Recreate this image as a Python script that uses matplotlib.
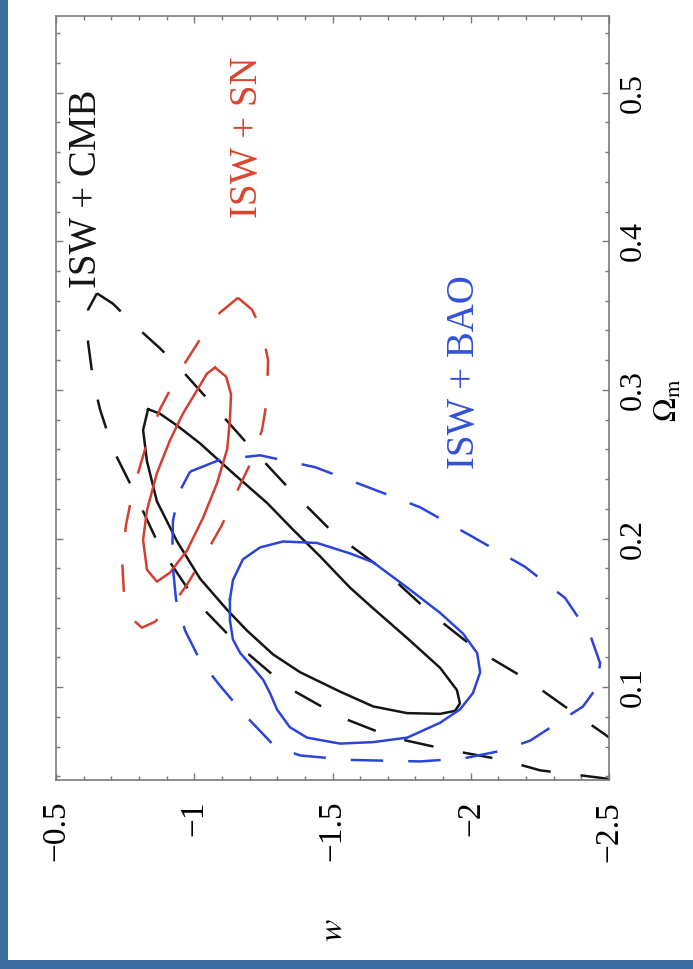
import numpy as np
import matplotlib
matplotlib.use("Agg")
import matplotlib.pyplot as plt
from matplotlib.patches import Rectangle
from matplotlib.ticker import MultipleLocator, FixedLocator

plt.rcParams['font.family'] = ['Liberation Serif', 'DejaVu Serif']
plt.rcParams['mathtext.fontset'] = 'stix'

# ---- confidence contours in the (w, Omega_m) plane ----
# ISW + CMB
cmb_inner_w = [-0.833, -0.876, -0.938, -1.021, -1.140, -1.263, -1.357, -1.455, -1.563, -1.647,
               -1.770, -1.889, -1.950, -1.961, -1.943, -1.889, -1.770, -1.647, -1.527, -1.383,
               -1.285, -1.191, -1.119, -1.021, -0.938, -0.865, -0.829, -0.815]
cmb_inner_om = [0.287, 0.284, 0.276, 0.264, 0.244, 0.224, 0.206, 0.188, 0.167, 0.153,
                0.133, 0.113, 0.098, 0.089, 0.084, 0.082, 0.0825, 0.087, 0.097, 0.110,
                0.122, 0.138, 0.152, 0.173, 0.198, 0.225, 0.252, 0.273]
cmb_outer_w = [-0.648, -0.706, -0.793, -0.876, -0.956, -1.057, -1.191, -1.346, -1.502, -1.683,
               -1.853, -2.023, -2.204, -2.370, -2.479, -2.612, -2.757, -2.468, -2.251, -2.117,
               -1.914, -1.719, -1.527, -1.336, -1.166, -1.010, -0.876, -0.768, -0.706, -0.659,
               -0.634, -0.616, -0.616]
cmb_outer_om = [0.365, 0.358, 0.342, 0.328, 0.313, 0.292, 0.264, 0.233, 0.204, 0.179,
                0.150, 0.125, 0.105, 0.083, 0.069, 0.051, 0.031, 0.039, 0.044, 0.051,
                0.058, 0.066, 0.080, 0.100, 0.127, 0.157, 0.194, 0.237, 0.260, 0.287,
                0.307, 0.332, 0.354]

# ISW + SN
sn_inner_w = [-1.075, -1.115, -1.133, -1.129, -1.119, -1.082, -1.032, -0.974, -0.912, -0.865,
              -0.829, -0.815, -0.829, -0.865, -0.912, -0.959, -1.014, -1.046]
sn_inner_om = [0.315, 0.309, 0.297, 0.280, 0.260, 0.237, 0.214, 0.192, 0.177, 0.171,
               0.179, 0.199, 0.219, 0.244, 0.266, 0.284, 0.301, 0.311]
sn_outer_w = [-1.158, -1.209, -1.245, -1.267, -1.263, -1.245, -1.202, -1.158, -1.100, -1.039,
              -0.974, -0.920, -0.858, -0.811, -0.768, -0.746, -0.739, -0.753, -0.779, -0.822,
              -0.876, -0.949, -1.021, -1.093]
sn_outer_om = [0.362, 0.354, 0.340, 0.320, 0.293, 0.273, 0.250, 0.233, 0.209, 0.189,
               0.169, 0.155, 0.144, 0.140, 0.147, 0.162, 0.186, 0.209, 0.233, 0.260,
               0.287, 0.313, 0.334, 0.352]

# ISW + BAO
bao_inner_w = [-1.129, -1.140, -1.176, -1.238, -1.321, -1.444, -1.563, -1.647, -1.770, -1.889,
               -1.972, -2.023, -2.034, -2.008, -1.961, -1.889, -1.770, -1.647, -1.527, -1.408,
               -1.346, -1.299, -1.274, -1.249, -1.213, -1.166, -1.140, -1.129]
bao_inner_om = [0.159, 0.172, 0.186, 0.194, 0.198, 0.197, 0.190, 0.184, 0.167, 0.150,
                0.136, 0.123, 0.110, 0.096, 0.085, 0.076, 0.066, 0.063, 0.062, 0.066,
                0.073, 0.085, 0.096, 0.105, 0.113, 0.123, 0.132, 0.145]
bao_outer_w = [-0.985, -1.093, -1.238, -1.437, -1.636, -1.817, -2.008, -2.196, -2.341, -2.432,
               -2.468, -2.453, -2.406, -2.323, -2.215, -2.106, -1.972, -1.817, -1.563, -1.383,
               -1.292, -1.184, -1.093, -1.021, -0.967, -0.934, -0.920, -0.923, -0.945]
bao_outer_om = [0.245, 0.253, 0.256, 0.248, 0.234, 0.221, 0.201, 0.181, 0.160, 0.135,
                0.116, 0.099, 0.087, 0.077, 0.064, 0.057, 0.052, 0.050, 0.051, 0.054,
                0.060, 0.081, 0.101, 0.118, 0.138, 0.159, 0.186, 0.212, 0.231]

# axis ticks
w_ticks = [-0.5, -1.0, -1.5, -2.0, -2.5]
w_tick_labels = ['\u22120.5', '\u22121', '\u22121.5', '\u22122', '\u22122.5']
om_ticks = [0.1, 0.2, 0.3, 0.4, 0.5]
om_tick_labels = ['0.1', '0.2', '0.3', '0.4', '0.5']

# labels: text, w, Omega_m
labels = [('ISW + CMB', -0.612, 0.435),
          ('ISW + SN', -1.191, 0.470),
          ('ISW + BAO', -1.979, 0.312)]

BLACK = '#151515'
RED = '#d4402f'
BLUE = '#2b44d9'
label_colors = [BLACK, '#d9452f', '#3450d8']

fig = plt.figure(figsize=(6.93, 9.69), dpi=100)
fig.patch.set_facecolor('white')

# blue frame strips on the left and bottom
fig.patches.append(Rectangle((0, 0), 8 / 693, 1, transform=fig.transFigure,
                             facecolor='#3b6d9e', edgecolor='none', zorder=0))
fig.patches.append(Rectangle((0, 0), 1, 9 / 969, transform=fig.transFigure,
                             facecolor='#3b6d9e', edgecolor='none', zorder=0))

ax = fig.add_axes([56 / 693, 1 - 780 / 969, 553 / 693, 764 / 969])


def closed(a):
    return np.append(a, a[0])


lw = 1.8
ax.plot(closed(cmb_outer_w), closed(cmb_outer_om), color=BLACK, lw=lw,
        linestyle=(0, (12, 12)))
ax.plot(closed(cmb_inner_w), closed(cmb_inner_om), color=BLACK, lw=lw,
        solid_joinstyle='round')
ax.plot(closed(sn_outer_w), closed(sn_outer_om), color=RED, lw=lw,
        linestyle=(0, (11, 13)))
ax.plot(closed(sn_inner_w), closed(sn_inner_om), color=RED, lw=lw,
        solid_joinstyle='round')
ax.plot(closed(bao_outer_w), closed(bao_outer_om), color=BLUE, lw=lw,
        linestyle=(0, (13, 10)))
ax.plot(closed(bao_inner_w), closed(bao_inner_om), color=BLUE, lw=lw,
        solid_joinstyle='round')

for (txt, xw, yo), c in zip(labels, label_colors):
    ax.text(xw, yo, txt, color=c, fontsize=28, rotation=90,
            ha='center', va='center')

ax.set_xlim(-0.5, -2.5)
ax.set_ylim(0.0375, 0.5516)

ax.xaxis.set_major_locator(FixedLocator(w_ticks))
ax.xaxis.set_minor_locator(MultipleLocator(0.1))
ax.yaxis.set_major_locator(FixedLocator(om_ticks))
ax.yaxis.set_minor_locator(MultipleLocator(0.02))
ax.set_xticklabels(w_tick_labels)
ax.set_yticklabels(om_tick_labels)

spine_color = '#7a7a7a'
for s in ax.spines.values():
    s.set_color(spine_color)
    s.set_linewidth(1.2)

ax.tick_params(which='both', direction='in', top=True, bottom=True, left=True,
               right=True, color=spine_color, width=1.0)
ax.tick_params(which='major', length=5)
ax.tick_params(which='minor', length=3)
ax.tick_params(axis='x', labelbottom=True, labeltop=False, labelrotation=90,
               labelsize=24, pad=15)
ax.tick_params(axis='y', labelleft=False, labelright=True, labelrotation=90,
               labelsize=23, pad=7)
for t in ax.yaxis.get_major_ticks():
    t.label2.set_va('center')

fig.text(333 / 693, 1 - 930 / 969, r'$w$', fontsize=24, rotation=90,
         ha='center', va='center')
fig.text(669 / 693, 1 - 400 / 969, r'$\Omega_{\rm m}$', fontsize=23, rotation=90,
         ha='center', va='center')

fig.savefig('out.png', dpi=100, facecolor='white')
